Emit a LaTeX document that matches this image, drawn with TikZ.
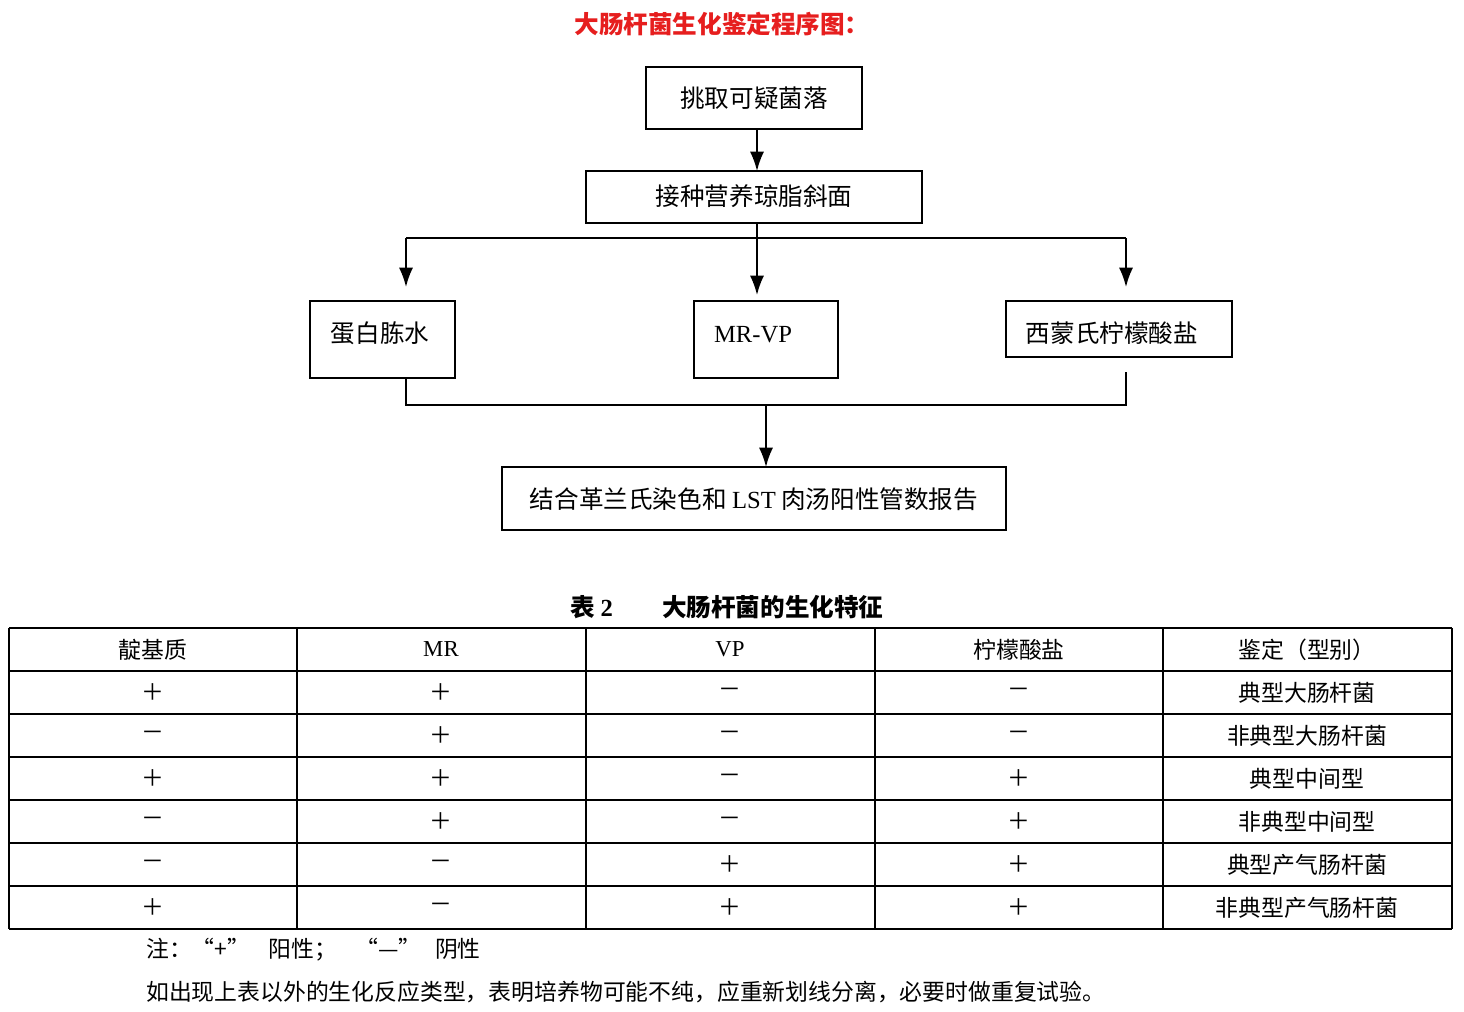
\documentclass[tikz,border=0pt]{standalone}
\usepackage{fontspec}
\setmainfont{Liberation Serif}
\newfontfamily\cjk{Noto Sans CJK SC}
\usetikzlibrary{arrows.meta}
\tikzstyle{stepbox} = [rectangle, draw=none, inner sep=0pt, font=\cjk\fontsize{14}{16}\selectfont]
\tikzstyle{frame} = [line width=1.6pt]
\tikzstyle{arrow} = [line width=1pt,-{Latex[length=11pt,width=8pt]}]
\tikzstyle{cell} = [font=\cjk\fontsize{13}{15}\selectfont]
\definecolor{titlered}{RGB}{230,30,30}
\newcommand{\tabrow}[6]{%
  \foreach \t [count=\c] in {#2,#3,#4,#5,#6}{
    \pgfmathsetmacro{\cx}{\c==1?153:(\c==2?441:(\c==3?730:(\c==4?1019:1307)))}
    \node[cell] (r#1c\c) at (\cx,{628+43*(#1)+21.5}) {\t};
  }}
\begin{document}
\begin{tikzpicture}[x=0.02cm,y=-0.02cm]
\useasboundingbox (0,0) rectangle (1464,1011);
\node (title) at (722,24) [font=\cjk\bfseries\fontsize{14}{16}\selectfont, text=titlered] {大肠杆菌生化鉴定程序图：};
% flow chart
\draw[frame] (646,67) rectangle (862,129);
\node (pick) [stepbox] at (754,98) {挑取可疑菌落};
\coordinate (pickS) at (757,129);
\draw[frame] (586,171) rectangle (922,223);
\node (slant) [stepbox] at (754,196) {接种营养琼脂斜面};
\coordinate (slantN) at (757,171);
\coordinate (slantS) at (757,223);
\draw[frame] (310,301) rectangle (455,378);
\node (pep) [stepbox] at (380,333) {蛋白胨水};
\draw[frame] (694,301) rectangle (838,378);
\node (mrvp) [stepbox, font=\fontsize{14}{16}\selectfont] at (753,335) {MR-VP};
\draw[frame] (1006,301) rectangle (1232,357);
\node (cit) [stepbox] at (1112,333) {西蒙氏柠檬酸盐};
\draw[frame] (502,467) rectangle (1006,530);
\node (rep) [stepbox] at (754,499) {结合革兰氏染色和 {\rmfamily\fontsize{14}{16}\selectfont LST} 肉汤阳性管数报告};
\coordinate (split) at (757,238);
\draw[arrow] (pickS) -- (slantN);
\draw[line width=1pt] (slantS) -- (split);
\draw[line width=1pt] (406,238) -- (1126,238);
\draw[arrow] (406,238) -- (406,287);
\draw[arrow] (split) -- (757,295);
\draw[arrow] (1126,238) -- (1126,287);
\draw[line width=1pt] (406,378) -- (406,405) -- (1126,405) -- (1126,372);
\draw[arrow] (766,405) -- (766,467);
% table
\node (cap) at (727,607) [font=\cjk\bfseries\fontsize{14}{16}\selectfont] {表 {\rmfamily\bfseries 2}\hspace{2em}大肠杆菌的生化特征};
\foreach \x in {9,297,586,875,1163,1452} \draw[line width=0.8pt] (\x,628) -- (\x,929);
\foreach \y in {628,671,714,757,800,843,886,929} \draw[line width=0.8pt] (9,\y) -- (1452,\y);
\tabrow{0}{靛基质}{{\rmfamily MR}}{{\rmfamily VP}}{柠檬酸盐}{鉴定（型别）}
\tabrow{1}{＋}{＋}{－}{－}{典型大肠杆菌}
\tabrow{2}{－}{＋}{－}{－}{非典型大肠杆菌}
\tabrow{3}{＋}{＋}{－}{＋}{典型中间型}
\tabrow{4}{－}{＋}{－}{＋}{非典型中间型}
\tabrow{5}{－}{－}{＋}{＋}{典型产气肠杆菌}
\tabrow{6}{＋}{－}{＋}{＋}{非典型产气肠杆菌}
\node (note1) [cell, anchor=west] at (140,950) {注：“+”\hspace{0.8em}阳性；\hspace{0.8em}“—”\hspace{0.6em}阴性};
\node (note2) [cell, anchor=west] at (140,992) {如出现上表以外的生化反应类型，表明培养物可能不纯，应重新划线分离，必要时做重复试验。};
\end{tikzpicture}
\end{document}
